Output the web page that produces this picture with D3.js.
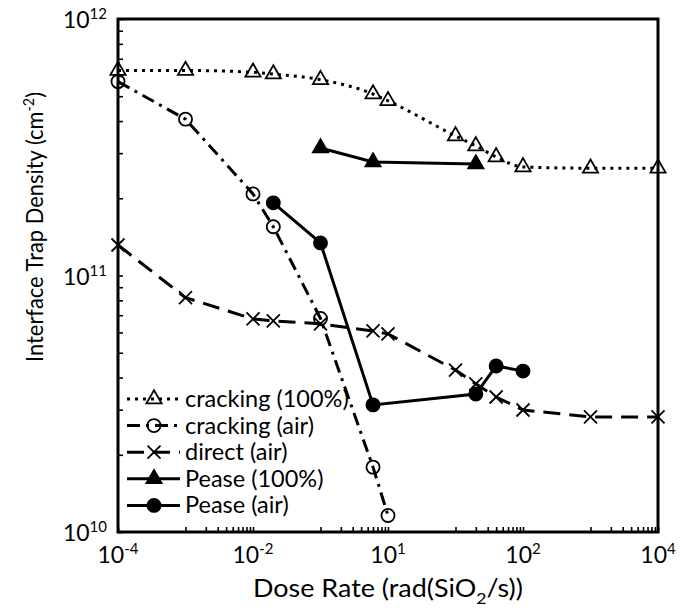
<!DOCTYPE html>
<html>
<head>
<meta charset="utf-8">
<script src="https://cdn.jsdelivr.net/npm/d3@7"></script>
<style>
  body { margin: 0; background: #fff; }
  text { font-family: Lato, "Open Sans", sans-serif; fill: #000; }
</style>
</head>
<body>
<svg id="chart" width="680" height="608"></svg>
<script>
// Dose rate (rad(SiO2)/s) and interface trap density (cm^-2) per series
const crack100X = [1e-4, 1e-3, 1e-2, 0.02, 0.1, 0.6, 1, 10, 20, 40, 100, 1000, 1e4];
const crack100Y = [6.3e11, 6.3e11, 6.2e11, 6.1e11, 5.8e11, 5.1e11, 4.8e11, 3.5e11, 3.2e11, 2.9e11, 2.65e11, 2.62e11, 2.62e11];

const crackAirX = [1e-4, 1e-3, 1e-2, 0.02, 0.1, 0.6, 1];
const crackAirY = [5.7e11, 4.07e11, 2.08e11, 1.55e11, 6.8e10, 1.79e10, 1.16e10];

const directX = [1e-4, 1e-3, 1e-2, 0.02, 0.1, 0.6, 1, 10, 20, 40, 100, 1000, 1e4];
const directY = [1.315e11, 8.2e10, 6.77e10, 6.65e10, 6.48e10, 6.08e10, 5.92e10, 4.28e10, 3.78e10, 3.36e10, 2.99e10, 2.81e10, 2.81e10];

const pease100X = [0.1, 0.6, 20];
const pease100Y = [3.14e11, 2.77e11, 2.72e11];

const peaseAirX = [0.02, 0.1, 0.6, 20, 40, 100];
const peaseAirY = [1.92e11, 1.34e11, 3.13e10, 3.45e10, 4.44e10, 4.24e10];

const seriesNames = ["cracking (100%)", "cracking (air)", "direct (air)", "Pease (100%)", "Pease (air)"];

// Axis ticks: labels are "10" followed by a superscript exponent
const xTickValues = [1e-4, 1e-2, 1, 1e2, 1e4];
const xTickExponents = ["-4", "-2", "1", "2", "4"];
const yTickValues = [1e10, 1e11, 1e12];
const yTickExponents = ["10", "11", "12"];

const xTitle = "Dose Rate (rad(SiO";
const xTitleSub = "2";
const xTitleEnd = "/s))";
const yTitle = "Interface Trap Density (cm";
const yTitleSup = "-2";
const yTitleEnd = ")";

// ---------------------------------------------------------------
const svg = d3.select("#chart");
const plot = { left: 118, right: 658, top: 19, bottom: 532 };

const x = d3.scaleLog().domain([1e-4, 1e4]).range([plot.left, plot.right]);
const y = d3.scaleLog().domain([1e10, 1e12]).range([plot.bottom, plot.top]);

// minor ticks: x every decade multiple within each two-decade step, y 2..9 per decade
const xMinor = [];
xTickValues.slice(0, -1).forEach(m => { for (let k = 1; k <= 9; k++) xMinor.push(m * 10 * k); });
const yMinor = [];
yTickValues.slice(0, -1).forEach(m => { for (let k = 2; k <= 9; k++) yMinor.push(m * k); });

const tickLen = 5;

const xAxis = svg.append("g").attr("transform", `translate(0,${plot.bottom})`)
  .call(d3.axisBottom(x).tickValues(xTickValues.concat(xMinor)).tickSizeInner(-tickLen).tickSizeOuter(0).tickFormat(() => ""));
xAxis.select(".domain").remove();
xAxis.selectAll(".tick line").attr("stroke", "#000").attr("stroke-width", 1.6);

const yAxis = svg.append("g").attr("transform", `translate(${plot.left},0)`)
  .call(d3.axisLeft(y).tickValues(yTickValues.concat(yMinor)).tickSizeInner(-tickLen).tickSizeOuter(0).tickFormat(() => ""));
yAxis.select(".domain").remove();
yAxis.selectAll(".tick line").attr("stroke", "#000").attr("stroke-width", 1.6);

// tick labels
const labelSize = 23, supSize = 15;
svg.append("g").selectAll("text").data(xTickValues).join("text")
  .attr("x", d => x(d)).attr("y", plot.bottom + 31)
  .attr("text-anchor", "middle").attr("font-size", labelSize)
  .each(function (d, i) {
    const t = d3.select(this);
    t.append("tspan").text("10");
    t.append("tspan").attr("dy", -9).attr("font-size", supSize).text(xTickExponents[i]);
  });

svg.append("g").selectAll("text").data(yTickValues).join("text")
  .attr("x", plot.left - 11).attr("y", d => y(d) + 9)
  .attr("text-anchor", "end").attr("font-size", labelSize)
  .each(function (d, i) {
    const t = d3.select(this);
    t.append("tspan").text("10");
    t.append("tspan").attr("dy", -9).attr("font-size", supSize).text(yTickExponents[i]);
  });

// axis titles (fitted to a fixed run length)
const xt = svg.append("text").attr("x", (plot.left + plot.right) / 2).attr("y", 597)
  .attr("text-anchor", "middle").attr("font-size", 24.5)
  .attr("textLength", 270).attr("lengthAdjust", "spacingAndGlyphs");
xt.append("tspan").text(xTitle);
xt.append("tspan").attr("dy", 7).attr("font-size", 16).text(xTitleSub);
xt.append("tspan").attr("dy", -7).text(xTitleEnd);

const yt = svg.append("text").attr("transform", "translate(43,227) rotate(-90)")
  .attr("text-anchor", "middle").attr("font-size", 23)
  .attr("textLength", 270).attr("lengthAdjust", "spacingAndGlyphs");
yt.append("tspan").text(yTitle);
yt.append("tspan").attr("dy", -9).attr("font-size", 15).text(yTitleSup);
yt.append("tspan").attr("dy", 9).text(yTitleEnd);

// ---------------------------------------------------------------
// marker shapes
const triPath = d3.symbol(d3.symbolTriangle, 100)();
const circPath = d3.symbol(d3.symbolCircle, 135)();
const xPath = "M-6.5,-6.5L6.5,6.5M-6.5,6.5L6.5,-6.5";

const series = [
  { name: seriesNames[0], xs: crack100X, ys: crack100Y, dash: "3 5", marker: triPath, fill: "none", curve: d3.curveMonotoneX },
  { name: seriesNames[1], xs: crackAirX, ys: crackAirY, dash: "13 6 3 6", marker: circPath, fill: "none", curve: d3.curveLinear },
  { name: seriesNames[2], xs: directX, ys: directY, dash: "17 9", marker: xPath, fill: "none", curve: d3.curveLinear },
  { name: seriesNames[3], xs: pease100X, ys: pease100Y, dash: null, marker: triPath, fill: "#000", curve: d3.curveLinear },
  { name: seriesNames[4], xs: peaseAirX, ys: peaseAirY, dash: null, marker: circPath, fill: "#000", curve: d3.curveLinear }
];

series.forEach(s => {
  const pts = s.xs.map((v, i) => [v, s.ys[i]]);
  const line = d3.line().x(d => x(d[0])).y(d => y(d[1])).curve(s.curve);
  svg.append("path").datum(pts).attr("d", line)
    .attr("fill", "none").attr("stroke", "#000").attr("stroke-width", 3)
    .attr("stroke-dasharray", s.dash);
  svg.append("g").selectAll("path").data(pts).join("path")
    .attr("transform", d => `translate(${x(d[0])},${y(d[1])})`)
    .attr("d", s.marker)
    .attr("fill", s.fill).attr("stroke", "#000").attr("stroke-width", 1.8);
});

// plot frame
svg.append("rect")
  .attr("x", plot.left).attr("y", plot.top)
  .attr("width", plot.right - plot.left).attr("height", plot.bottom - plot.top)
  .attr("fill", "none").attr("stroke", "#000").attr("stroke-width", 3);

// legend
const legend = svg.append("g");
series.forEach((s, i) => {
  const cy = 399 + i * 26.6;
  const g = legend.append("g").attr("transform", `translate(127,${cy})`);
  g.append("line").attr("x1", 0).attr("x2", 53).attr("y1", 0).attr("y2", 0)
    .attr("stroke", "#000").attr("stroke-width", 3).attr("stroke-dasharray", s.dash);
  g.append("path").attr("transform", "translate(27,0)").attr("d", s.marker)
    .attr("fill", s.fill).attr("stroke", "#000").attr("stroke-width", 1.8);
  g.append("text").attr("x", 58).attr("y", 8).attr("font-size", 23.5).text(s.name);
});
</script>
</body>
</html>
